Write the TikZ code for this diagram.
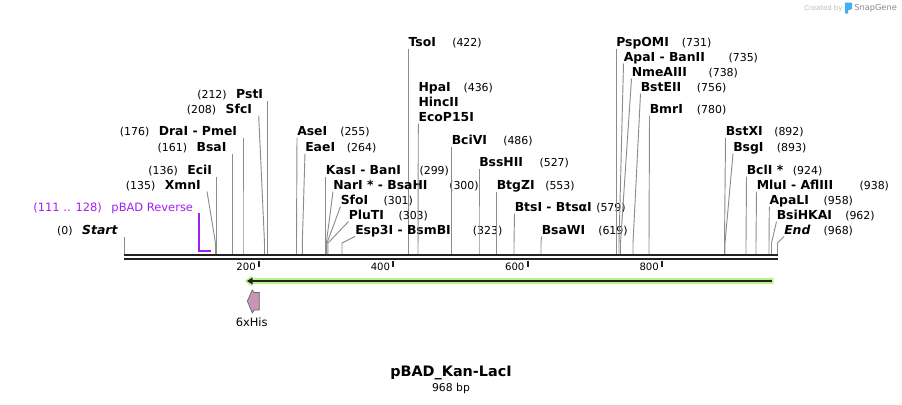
\documentclass[tikz,border=0pt]{standalone}
\usepackage{fontspec}
\setmainfont{DejaVu Sans}
\usetikzlibrary{calc}
\definecolor{siteline}{HTML}{8C8C8C}
\definecolor{seqline}{HTML}{222222}
\definecolor{primerpurple}{HTML}{A020F0}
\definecolor{orfgreen}{HTML}{BEF08C}
\definecolor{hispink}{HTML}{C995B6}
\definecolor{logogrey}{HTML}{BBBBBB}
\definecolor{logodark}{HTML}{8A8A8A}
\definecolor{logoblue}{HTML}{45AEEF}
\tikzset{
  enz/.style={font=\fontsize{9.3}{11}\selectfont\bfseries, inner sep=0pt},
  num/.style={font=\fontsize{8.2}{10}\selectfont, inner sep=0pt},
  site/.style={draw=siteline, line width=0.7pt},
  seq/.style={draw=seqline, line width=1.5pt},
  ticklab/.style={font=\fontsize{7.6}{9}\selectfont, inner sep=0pt, anchor=base east},
  feat/.style={font=\fontsize{8.6}{10}\selectfont, inner sep=0pt},
}

\begin{document}
\begin{tikzpicture}[x=0.75pt, y=-0.75pt]
    \useasboundingbox (0,0) rectangle (902,404);

    % Sequence backbone (double line)
    \draw[seq] (124,255) -- (778,255);
    \draw[seq] (124,259) -- (778,259);

    % Ruler ticks
    \foreach \bp/\tx in {200/259.0, 400/393.4, 600/527.7, 800/662.1} {
        \draw[seq] (\tx,261) -- (\tx,267);
        \node[ticklab] (tick\bp) at (\tx-3,270.7) {\bp};
    }

    % Cut sites, label right of the line
    % line x / label x / baseline / name / number x / position
    \foreach \lx/\tx/\by/\nm/\nx/\nb [count=\i] in {
        408.3/408.3/46.5/TsoI/452/422,
        296.5/297/135.5/AseI/340/255,
        302.3/305/151.5/EaeI/346.7/264,
        325.7/325.7/174.5/KasI - BanI/419.3/299,
        326.3/333/189.5/NarI * - BsaHI/449/300,
        327/340.5/204.5/SfoI/383.3/301,
        328/348.5/219.5/PluTI/398.3/303,
        342/355/234.5/Esp3I - BsmBI/472.7/323,
        451.5/451.5/144.5/BciVI/503/486,
        479/479/166.5/BssHII/539.3/527,
        496.5/496.5/189.5/BtgZI/545/553,
        514/514.5/211.5/BtsI - BtsαI/596/579,
        541/541.5/234.5/BsaWI/598/619,
        616/616/46.5/PspOMI/681.7/731,
        619/623.5/61.5/ApaI - BanII/728.3/735,
        620.5/631.5/76.5/NmeAIII/708.3/738,
        633/640.5/91.5/BstEII/696.7/756,
        649/649.5/113.5/BmrI/696.7/780,
        724.5/725.5/135.5/BstXI/774/892,
        725/733/151.5/BsgI/776.7/893,
        746/746.5/174.5/BclI */792.7/924,
        756/756.5/189.5/MluI - AflIII/859.3/938,
        769/769.3/204.5/ApaLI/823.3/958,
        771.5/776.5/219.5/BsiHKAI/845/962,
        777.5/784/234.5/{\itshape End}/823.3/968} {
        \node[enz, anchor=base west] (r\i) at (\tx,\by) {\nm};
        \node[num, anchor=base west] (rn\i) at (\nx,\by) {(\nb)};
        \coordinate (rs\i) at (\lx,254);
        \draw[site] (rs\i) -- (\lx,243) -- ([yshift=-1.5pt]r\i.base west);
    }

    % HpaI / HincII / EcoP15I share one site
    \node[enz, anchor=base west] (hpa) at (418.3,91.5) {HpaI};
    \node[num, anchor=base west] (hpanum) at (463.3,91.5) {(436)};
    \node[enz, anchor=base west] (hinc) at (418.3,106.5) {HincII};
    \node[enz, anchor=base west] (ecop) at (418.3,121.5) {EcoP15I};
    \coordinate (hpasite) at (418,254);
    \draw[site] (hpasite) -- ([yshift=-1.5pt]ecop.base west);

    % Cut sites, label left of the line
    % line x / line top x / baseline / name / name right end / position
    \foreach \lx/\tx/\by/\nm/\ex/\nb [count=\i] in {
        124.3/124.3/234.5/{\itshape Start}/117.7/0,
        215.5/207/189.5/XmnI/201/135,
        216.5/216.5/174.5/EciI/212.3/136,
        232.5/232.5/151.5/BsaI/226.7/161,
        243/243/135.5/DraI - PmeI/237.3/176,
        264.5/258.7/113.5/SfcI/252.3/208,
        267.3/267.3/98.5/PstI/263.3/212} {
        \node[enz, anchor=base east] (l\i) at (\ex,\by) {\nm};
        \node[num, anchor=base east] (ln\i) at ([xshift=-6.75pt]l\i.base west) {(\nb)};
        \coordinate (ls\i) at (\lx,254);
        \coordinate (lt\i) at (\tx,\by+2);
        \draw[site] (ls\i) -- (\lx,243) -- (lt\i);
    }

    % Primer pBAD Reverse
    \node[feat, text=primerpurple, anchor=base east] (pbad) at (193.3,211.5) {pBAD Reverse};
    \node[feat, text=primerpurple, anchor=base east] (pbadpos) at ([xshift=-6.75pt]pbad.base west) {(111 .. 128)};
    \draw[primerpurple, line width=1.5pt] (199,213) -- (199,250.7) -- (210.7,250.7);

    % ORF arrow (reverse strand)
    \fill[orfgreen] (773.5,277.8) -- (252,277.8) -- (252,275.5) -- (244.5,281) -- (252,286.5) -- (252,284.2) -- (773.5,284.2) -- cycle;
    \draw[seqline, line width=1.8pt] (771.5,281) -- (251,281);
    \fill[seqline] (247,281) -- (252.5,277.5) -- (252.5,284.5) -- cycle;

    % 6xHis feature
    \draw[fill=hispink, draw=black!60, line width=0.5pt] (259.3,292.5) -- (259.3,310) -- (254.3,310)
        -- (252.3,313) -- (247.3,301) -- (252.3,290) -- (254.3,292.5) -- cycle;
    \node[feat, anchor=base] (his) at (251.7,326) {6xHis};

    % Title
    \node[font=\fontsize{10.8}{13}\selectfont\bfseries, anchor=base, inner sep=0pt] (title) at (451,376.3) {pBAD\_Kan-LacI};
    \node[font=\fontsize{8.1}{10}\selectfont, anchor=base, inner sep=0pt] (len) at (451,391.2) {968 bp};

    % Created by SnapGene
    \node[font=\fontsize{5.2}{6}\selectfont, text=logogrey, anchor=base west, inner sep=0pt] (created) at (804,10) {Created by};
    \fill[logoblue] (845,2.5) -- (852,2.5) -- (852,9) -- (848,10.5) -- (848,13.5) -- (845,13.5) -- cycle;
    \node[font=\fontsize{6.2}{7}\selectfont, text=logodark, anchor=base west, inner sep=0pt] (snapgene) at (854,10.5) {SnapGene};
\end{tikzpicture}
\end{document}
